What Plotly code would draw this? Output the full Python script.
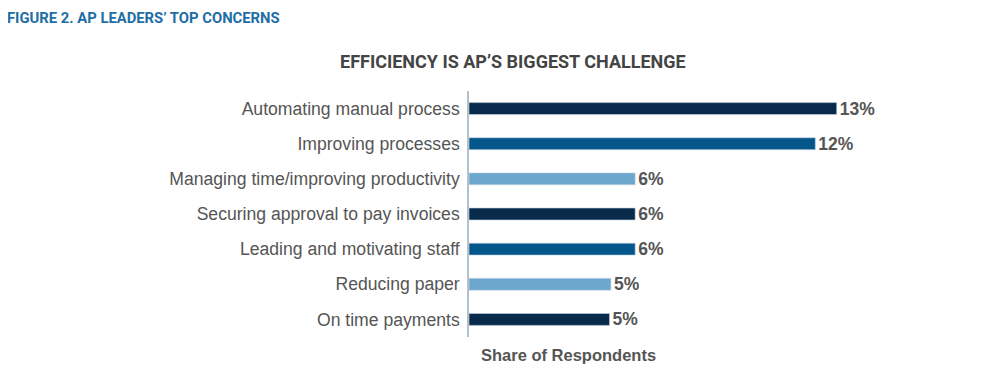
import plotly.graph_objects as go

categories = [
    "Automating manual process",
    "Improving processes",
    "Managing time/improving productivity",
    "Securing approval to pay invoices",
    "Leading and motivating staff",
    "Reducing paper",
    "On time payments",
]
values = [12.9, 12.15, 5.83, 5.83, 5.83, 4.98, 4.93]
labels = ["13%", "12%", "6%", "6%", "6%", "5%", "5%"]
colors = ["#082b4b", "#05568a", "#6ca7cd", "#082b4b", "#05568a", "#6ca7cd", "#082b4b"]

# page body has an 8px margin; compensate so the screen positions match
OFF = 8
L, R, T, B = 469 - OFF, 100 + OFF, 91 - OFF, 43 + OFF
PW, PH = 1000 - L - R, 380 - T - B

def px(xs):
    return (xs - OFF - L) / PW

def py(ys):
    return 1 - (ys - OFF - T) / PH

fig = go.Figure(
    go.Bar(
        x=values,
        y=categories,
        orientation="h",
        marker=dict(color=colors, line=dict(color="rgba(200,215,230,0.6)", width=1)),
        text=labels,
        textposition="outside",
        constraintext="none",
        cliponaxis=False,
        textfont=dict(family="Liberation Sans, Arial, sans-serif", size=17.5, color="#555555", weight="bold"),
        width=0.34,
    )
)

fig.update_layout(
    width=1000,
    height=380,
    margin=dict(l=L, r=R, t=T, b=B),
    paper_bgcolor="white",
    plot_bgcolor="white",
    showlegend=False,
    xaxis=dict(range=[0, 15.12], visible=False, fixedrange=True),
    yaxis=dict(
        autorange="reversed",
        showline=True,
        linecolor="#b4c0cc",
        linewidth=1.5,
        ticks="",
        ticklabelstandoff=4,
        tickfont=dict(family="Liberation Sans, Arial, sans-serif", size=17.6, color="#555555"),
        showgrid=False,
    ),
    annotations=[
        dict(
            text="<b>FIGURE 2. AP LEADERS\u2019 TOP CONCERNS</b>",
            xref="paper", yref="paper", x=px(5), y=py(18),
            xanchor="left", yanchor="middle", showarrow=False,
            font=dict(family="Roboto, Liberation Sans, sans-serif", size=14.8, color="#1e6ea6"),
        ),
        dict(
            text="<b>EFFICIENCY IS AP\u2019S BIGGEST CHALLENGE</b>",
            xref="paper", yref="paper", x=px(513), y=py(62),
            xanchor="center", yanchor="middle", showarrow=False,
            font=dict(family="Roboto, Liberation Sans, sans-serif", size=18, color="#444444"),
        ),
        dict(
            text="<b>Share of Respondents</b>",
            xref="paper", yref="paper", x=px(568), y=py(355),
            xanchor="center", yanchor="middle", showarrow=False,
            font=dict(family="Liberation Sans, Arial, sans-serif", size=16.5, color="#555555"),
        ),
    ],
)

fig.write_html("out.html")
